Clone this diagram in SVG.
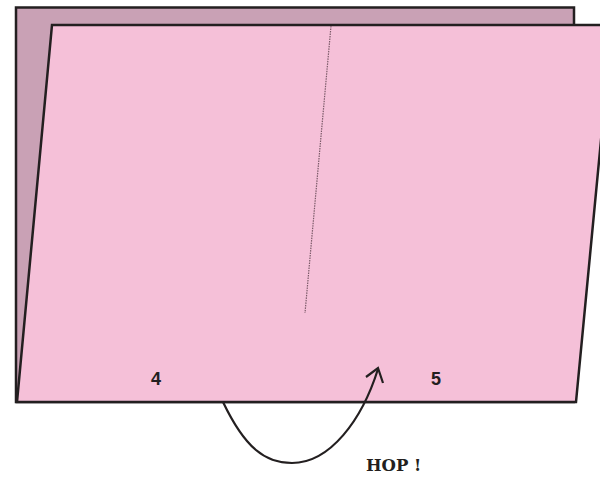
<svg xmlns="http://www.w3.org/2000/svg" width="600" height="477" viewBox="0 0 600 477">
<style>
.sheet{stroke:#231f20;stroke-width:2.5;stroke-linejoin:miter}
.num{font-family:"Liberation Sans",Arial,sans-serif;font-weight:bold;font-size:18px;fill:#231f20}
.hop{font-family:"DejaVu Serif",serif;font-weight:bold;font-size:16.5px;fill:#231f20}
</style>
<rect width="600" height="477" fill="#ffffff"/>
<g id="back-sheet"><rect class="sheet" x="16" y="7.5" width="558" height="394.5" fill="#c9a1b5"/></g>
<g id="front-sheet">
<polygon class="sheet" points="52,25 612,25 576,402 17,402" fill="#f5c0d8"/>
<line x1="331" y1="26" x2="305" y2="313" stroke="#7a5a68" stroke-width="1.2" stroke-dasharray="1.5,1"/>
<text class="num" x="151" y="385">4</text>
<text class="num" x="431" y="385">5</text>
</g>
<g id="connectors">
<path d="M223,402 C245,448 265,463 292,463 C330,463 362,420 378,369" fill="none" stroke="#231f20" stroke-width="2.2"/>
<path d="M366,377 L378,368 L383,383" fill="none" stroke="#231f20" stroke-width="2.2" stroke-linejoin="miter"/>
</g>
<g id="label-hop"><text class="hop" x="366" y="471">HOP !</text></g>
</svg>
